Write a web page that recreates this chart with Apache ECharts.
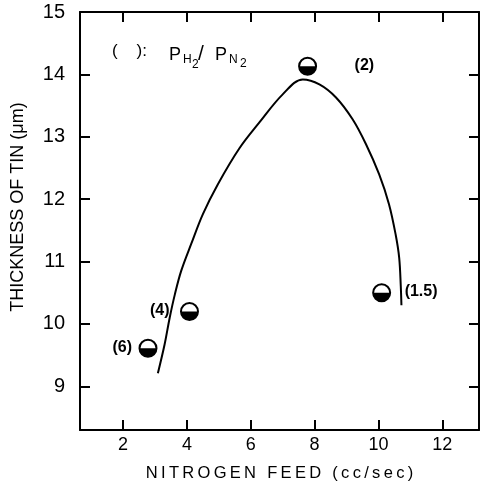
<!DOCTYPE html>
<html><head><meta charset="utf-8">
<script src="https://cdn.jsdelivr.net/npm/echarts@6/dist/echarts.min.js"></script>
<style>html,body{margin:0;padding:0;background:#fff}#c{width:484px;height:487px}</style>
</head><body><div id="c"></div>
<script>
// Data
var pointX = [2.78, 4.08, 7.78, 10.1];
var pointY = [9.61, 10.20, 14.13, 10.50];
var pointLabels = ['(6)', '(4)', '(2)', '(1.5)'];
var curveX = [3.09, 3.30, 3.46, 3.62, 3.82, 4.14, 4.50, 4.97, 5.65, 6.27, 7.00, 7.63, 8.15, 8.67, 9.19, 9.61, 10.02, 10.33, 10.54, 10.65, 10.70, 10.72];
var curveY = [9.21, 9.67, 10.10, 10.47, 10.85, 11.29, 11.76, 12.24, 12.82, 13.23, 13.68, 13.92, 13.84, 13.63, 13.28, 12.88, 12.40, 11.92, 11.43, 11.06, 10.60, 10.30];
var xTicks = [2, 4, 6, 8, 10, 12];
var yTicks = [9, 10, 11, 12, 13, 14, 15];
var xName = 'NITROGEN FEED (cc/sec)';
var yName = 'THICKNESS OF TIN (\u03bcm)';

var pts = pointX.map(function (x, i) { return [x, pointY[i], i]; });
var curve = curveX.map(function (x, i) { return [x, curveY[i]]; });
// label placement relative to marker (pixels)
var labelDx = [-16, -20, 47, 23];
var labelAlign = ['right', 'right', 'left', 'left'];

var font = 'Liberation Sans';
function spaced(s) { return s.split('').join('\u2009'); }

var chart = echarts.init(document.getElementById('c'));
chart.setOption({
  backgroundColor: '#fff',
  animation: false,
  grid: { left: 80, right: 5, top: 12, bottom: 55 },
  xAxis: [{
    type: 'value', position: 'bottom', min: 0.65, max: 13.15,
    splitLine: { show: false },
    axisLine: { lineStyle: { color: '#000', width: 2 } },
    axisTick: { inside: true, length: 10, customValues: xTicks, lineStyle: { color: '#000', width: 2 } },
    axisLabel: { customValues: xTicks, color: '#000', fontSize: 18, fontFamily: font, margin: 6 },
    name: spaced(xName), nameLocation: 'middle', nameGap: 35,
    nameTextStyle: { color: '#000', fontSize: 16.5, fontFamily: font }
  }, {
    type: 'value', position: 'top', min: 0.65, max: 13.15,
    splitLine: { show: false },
    axisLine: { lineStyle: { color: '#000', width: 2 } },
    axisTick: { inside: true, length: 10, customValues: xTicks, lineStyle: { color: '#000', width: 2 } },
    axisLabel: { show: false }
  }],
  yAxis: [{
    type: 'value', position: 'left', min: 8.3, max: 15,
    splitLine: { show: false },
    axisLine: { lineStyle: { color: '#000', width: 2 } },
    axisTick: { inside: true, length: 10, customValues: yTicks, lineStyle: { color: '#000', width: 2 } },
    axisLabel: { customValues: yTicks, color: '#000', fontSize: 20, fontFamily: font, margin: 15 },
    name: yName, nameLocation: 'middle', nameGap: 53, nameRotate: 90,
    nameTextStyle: { color: '#000', fontSize: 18, fontFamily: font, padding: [0, 0, 0, 28] }
  }, {
    type: 'value', position: 'right', min: 8.3, max: 15,
    splitLine: { show: false },
    axisLine: { lineStyle: { color: '#000', width: 2 } },
    axisTick: { inside: true, length: 10, customValues: yTicks, lineStyle: { color: '#000', width: 2 } },
    axisLabel: { show: false }
  }],
  graphic: [{
    type: 'group', left: 112, top: 43,
    children: [
      { type: 'text', x: 0, y: 0, style: { text: '(    ):', font: '17px ' + font, fill: '#000' } },
      { type: 'text', x: 57, y: 3, style: { text: 'P', font: '18px ' + font, fill: '#000' } },
      { type: 'text', x: 71, y: 11, style: { text: 'H', font: '12px ' + font, fill: '#000' } },
      { type: 'text', x: 80, y: 16, style: { text: '2', font: '12px ' + font, fill: '#000' } },
      { type: 'text', x: 86, y: 1, style: { text: '/', font: '21px ' + font, fill: '#000' } },
      { type: 'text', x: 103, y: 3, style: { text: 'P', font: '18px ' + font, fill: '#000' } },
      { type: 'text', x: 117, y: 11, style: { text: 'N', font: '12px ' + font, fill: '#000' } },
      { type: 'text', x: 128, y: 15, style: { text: '2', font: '12px ' + font, fill: '#000' } }
    ]
  }],
  series: [{
    type: 'line', data: curve, smooth: 0.35, symbol: 'none',
    lineStyle: { color: '#000', width: 2 }, z: 2
  }, {
    type: 'custom', data: pts, z: 3,
    encode: { x: 0, y: 1 },
    renderItem: function (params, api) {
      var p = api.coord([api.value(0), api.value(1)]);
      var i = api.value(2);
      var r = 8.5;
      return {
        type: 'group',
        children: [
          { type: 'circle', shape: { cx: p[0], cy: p[1], r: r }, style: { fill: '#fff', stroke: '#000', lineWidth: 2 } },
          { type: 'sector', shape: { cx: p[0], cy: p[1], r0: 0, r: r, startAngle: 0, endAngle: Math.PI, clockwise: true }, style: { fill: '#000' } },
          { type: 'text', x: p[0] + labelDx[i], y: p[1] - 1,
            style: { text: pointLabels[i], font: 'bold 16px ' + font, fill: '#000', align: labelAlign[i], verticalAlign: 'middle' } }
        ]
      };
    }
  }]
});
</script>
</body></html>
